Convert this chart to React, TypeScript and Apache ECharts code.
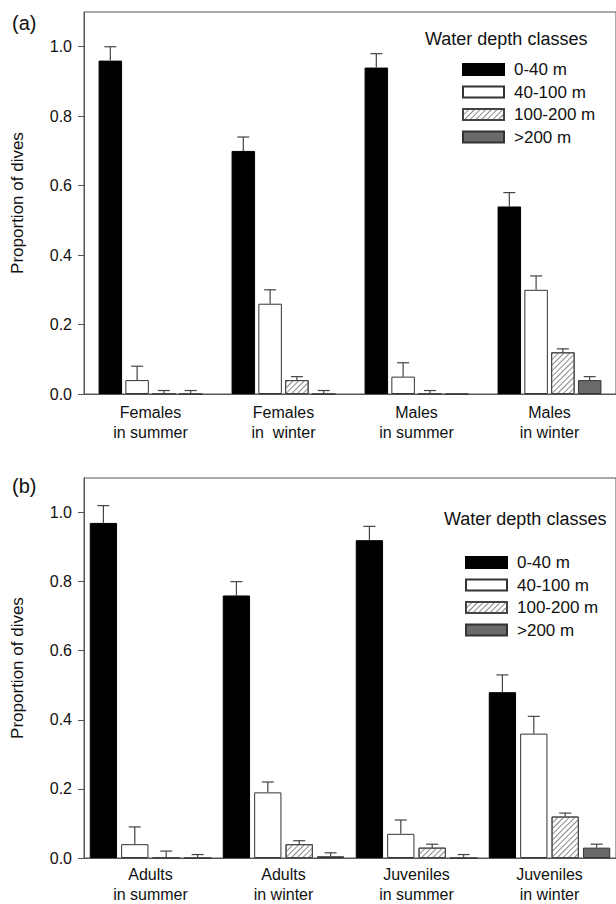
import React, { useEffect, useRef } from "react";
import * as echarts from "echarts";

const depthClasses = ["0-40 m", "40-100 m", "100-200 m", ">200 m"];
const groupsA = ["Females\nin summer", "Females\nin  winter", "Males\nin summer", "Males\nin winter"];
const groupsB = ["Adults\nin summer", "Adults\nin winter", "Juveniles\nin summer", "Juveniles\nin winter"];

// Panel (a): means and standard errors per depth class
const meanA_0_40 = [0.96, 0.7, 0.94, 0.54];
const meanA_40_100 = [0.04, 0.26, 0.05, 0.3];
const meanA_100_200 = [0, 0.04, 0, 0.12];
const meanA_200 = [0, 0, 0, 0.04];
const seA_0_40 = [0.04, 0.04, 0.04, 0.04];
const seA_40_100 = [0.04, 0.04, 0.04, 0.04];
const seA_100_200 = [0.01, 0.01, 0.01, 0.01];
const seA_200 = [0.01, 0.01, null, 0.01];

// Panel (b)
const meanB_0_40 = [0.97, 0.76, 0.92, 0.48];
const meanB_40_100 = [0.04, 0.19, 0.07, 0.36];
const meanB_100_200 = [0, 0.04, 0.03, 0.12];
const meanB_200 = [0, 0.005, 0, 0.03];
const seB_0_40 = [0.05, 0.04, 0.04, 0.05];
const seB_40_100 = [0.05, 0.03, 0.04, 0.05];
const seB_100_200 = [0.02, 0.01, 0.01, 0.01];
const seB_200 = [0.01, 0.01, 0.01, 0.01];

const FONT = "'Liberation Sans', Arial, sans-serif";
const AXIS = "#555";
const TEXT = "#111";

const barStyles: any[] = [
  { color: "#000", borderColor: "#000", borderWidth: 1 },
  { color: "#fff", borderColor: "#333", borderWidth: 1 },
  {
    color: "#fff",
    borderColor: "#444",
    borderWidth: 1,
    decal: {
      symbol: "rect",
      symbolSize: 1,
      color: "#888",
      dashArrayX: [1, 0],
      dashArrayY: [1, 3],
      rotation: -Math.PI / 4,
    },
  },
  { color: "#6a6a6a", borderColor: "#333", borderWidth: 1 },
];

export default function App() {
  const ref = useRef<HTMLDivElement>(null);
  useEffect(() => {
    const chart = echarts.init(ref.current!, null, { renderer: "svg" });
    const panels = [
      {
        cats: groupsA,
        means: [meanA_0_40, meanA_40_100, meanA_100_200, meanA_200],
        ses: [seA_0_40, seA_40_100, seA_100_200, seA_200],
        barWidth: 23.5,
        barGap: 0.14,
        grid: { left: 84, top: 12, width: 534, height: 382 },
        labelMargin: 8,
        lineHeight: 20,
      },
      {
        cats: groupsB,
        means: [meanB_0_40, meanB_40_100, meanB_100_200, meanB_200],
        ses: [seB_0_40, seB_40_100, seB_100_200, seB_200],
        barWidth: 27.3,
        barGap: 0.15,
        grid: { left: 84, top: 478, width: 537, height: 386 },
        labelMargin: 7,
        lineHeight: 19.5,
      },
    ];

    const grids: any[] = [];
    const xAxes: any[] = [];
    const yAxes: any[] = [];
    const series: any[] = [];

    panels.forEach((p, pi) => {
      grids.push({
        ...p.grid,
        show: true,
        borderColor: AXIS,
        borderWidth: 1,
        backgroundColor: "transparent",
      });
      xAxes.push({
        type: "category",
        gridIndex: pi,
        data: p.cats,
        axisTick: { show: false },
        axisLine: { lineStyle: { color: AXIS, width: 1 } },
        axisLabel: {
          fontFamily: FONT,
          fontSize: 16,
          color: TEXT,
          lineHeight: p.lineHeight,
          margin: p.labelMargin,
          interval: 0,
        },
      });
      yAxes.push({
        type: "value",
        gridIndex: pi,
        min: 0,
        max: 1.1,
        interval: 0.2,
        name: "Proportion of dives",
        nameLocation: "middle",
        nameGap: 58,
        nameRotate: 90,
        nameTextStyle: { fontFamily: FONT, fontSize: 17, color: TEXT },
        splitLine: { show: false },
        axisLine: { show: true, lineStyle: { color: AXIS, width: 1 } },
        axisTick: { show: true, length: 6, lineStyle: { color: AXIS } },
        axisLabel: {
          fontFamily: FONT,
          fontSize: 16,
          color: TEXT,
          margin: 12,
          showMaxLabel: false,
          formatter: (v: number) => v.toFixed(1),
        },
      });
      const step = p.barWidth * (1 + p.barGap);
      depthClasses.forEach((dc, k) => {
        series.push({
          type: "bar",
          name: dc,
          xAxisIndex: pi,
          yAxisIndex: pi,
          data: p.means[k],
          barWidth: p.barWidth,
          barGap: `${p.barGap * 100}%`,
          itemStyle: barStyles[k],
          emphasis: { disabled: true },
        });
      });
      depthClasses.forEach((dc, k) => {
        const offset = (k - 1.5) * step;
        const data: any[] = [];
        p.ses[k].forEach((s, j) => {
          if (s != null) data.push([j, p.means[k][j], s]);
        });
        series.push({
          type: "custom",
          name: `err-${pi}-${k}`,
          xAxisIndex: pi,
          yAxisIndex: pi,
          z: 5,
          encode: { x: 0, y: 1 },
          data,
          renderItem: (params: any, api: any) => {
            const ci = api.value(0);
            const m = api.value(1);
            const s = api.value(2);
            const base = api.coord([ci, m]);
            const top = api.coord([ci, m + s]);
            const x = base[0] + offset;
            const st = { stroke: "#444", lineWidth: 1.2 };
            return {
              type: "group",
              children: [
                { type: "line", shape: { x1: x, y1: base[1], x2: x, y2: top[1] }, style: st },
                { type: "line", shape: { x1: x - 6, y1: top[1], x2: x + 6, y2: top[1] }, style: st },
              ],
            };
          },
        });
      });
    });

    const legendCommon = {
      orient: "vertical",
      data: depthClasses,
      icon: "rect",
      itemWidth: 41,
      itemHeight: 11,
      itemGap: 5.5,
      selectedMode: false,
      textStyle: { fontFamily: FONT, fontSize: 17, color: TEXT, padding: [0, 0, 0, 5] },
    };

    const option: any = {
      animation: false,
      backgroundColor: "#fff",
      grid: grids,
      xAxis: xAxes,
      yAxis: yAxes,
      series,
      legend: [
        { ...legendCommon, left: 457, top: 56 },
        { ...legendCommon, left: 460, top: 549 },
      ],
      graphic: [
        { type: "text", left: 12, top: 13, style: { text: "(a)", font: `20px ${FONT}`, fill: TEXT } },
        { type: "text", left: 12, top: 476, style: { text: "(b)", font: `20px ${FONT}`, fill: TEXT } },
        { type: "text", left: 425, top: 30, style: { text: "Water depth classes", font: `18px ${FONT}`, fill: TEXT } },
        { type: "text", left: 444, top: 510, style: { text: "Water depth classes", font: `18px ${FONT}`, fill: TEXT } },
      ],
    };
    chart.setOption(option);
    return () => chart.dispose();
  }, []);
  return (
    <div
      ref={ref}
      style={{ position: "fixed", left: 0, top: 0, width: 616, height: 904, background: "#fff" }}
    />
  );
}
